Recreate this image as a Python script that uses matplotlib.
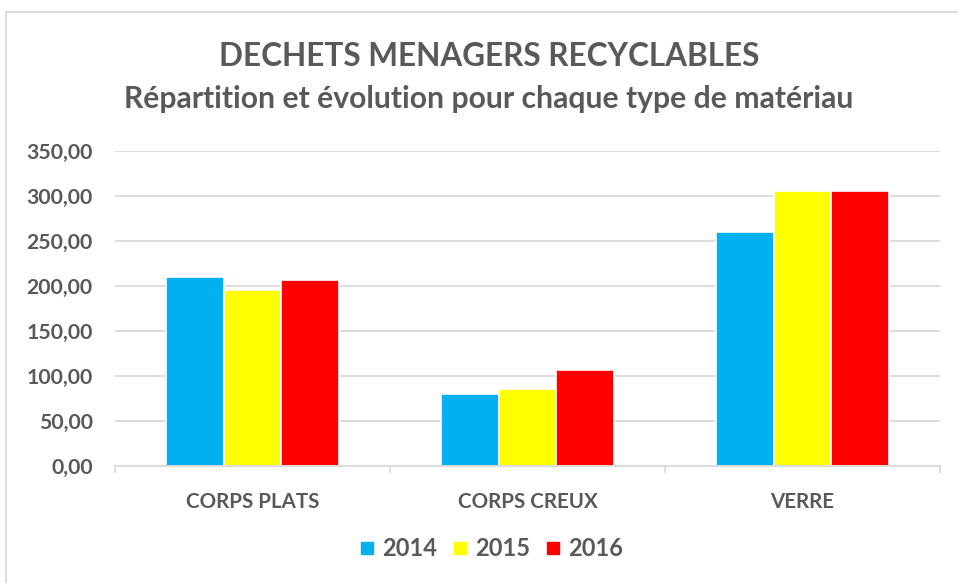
import numpy as np
import matplotlib.pyplot as plt
from matplotlib.lines import Line2D

categories = ['CORPS PLATS', 'CORPS CREUX', 'VERRE']
years = ['2014', '2015', '2016']
v2014 = [210, 80, 260]
v2015 = [196, 86, 305.5]
v2016 = [207, 107, 305.5]
colors = ['#00B0F0', '#FFFF00', '#FF0000']

plt.rcParams['font.family'] = ['Lato', 'DejaVu Sans']
txt = '#595959'

fig = plt.figure(figsize=(9.58, 5.83), dpi=100)
ax = fig.add_axes([115 / 958, 1 - 466 / 583, 825 / 958, 315 / 583])

x = np.arange(len(categories))
w = 0.21
for i, (vals, c, yr) in enumerate(zip([v2014, v2015, v2016], colors, years)):
    ax.bar(x + (i - 1) * w, vals, width=w, color=c, edgecolor='white',
           linewidth=1.2, label=yr, zorder=3)

ax.set_xlim(-0.5, 2.5)
ax.set_ylim(0, 350)
ax.set_yticks(np.arange(0, 351, 50))
ax.set_yticklabels([f'{v:.2f}'.replace('.', ',') for v in np.arange(0, 351, 50)])
ax.grid(axis='y', color='#d9d9d9', linewidth=1.3, zorder=0)
ax.set_xticks(x)
ax.set_xticklabels(categories)
ax.tick_params(axis='x', length=0, pad=19, labelsize=14.8, labelcolor=txt)
ax.tick_params(axis='y', length=0, pad=16, labelsize=15.3, labelcolor=txt)
for lab in ax.get_xticklabels() + ax.get_yticklabels():
    lab.set_fontweight('bold')
for s in ['top', 'right', 'left']:
    ax.spines[s].set_visible(False)
ax.spines['bottom'].set_color('#d9d9d9')
ax.spines['bottom'].set_linewidth(1.3)
ax.spines['bottom'].set_zorder(4)
# category separators
for b in [-0.5, 0.5, 1.5, 2.5]:
    ax.plot([b, b], [0, -7], color='#d9d9d9', lw=1.3, clip_on=False, zorder=4)

fig.text(489 / 958, 1 - 57 / 583, 'DECHETS MENAGERS RECYCLABLES', ha='center', va='center',
         fontsize=22.7, fontweight='bold', color=txt)
fig.text(489 / 958, 1 - 99 / 583, 'Répartition et évolution pour chaque type de matériau',
         ha='center', va='center', fontsize=21.7, fontweight='bold', color=txt)

handles = [Line2D([0], [0], marker='s', linestyle='', markersize=8,
                  markerfacecolor=c, markeredgecolor=c) for c in colors]
leg = fig.legend(handles, years, loc='center', bbox_to_anchor=(491 / 958, 1 - 549 / 583),
                 ncol=3, frameon=False, fontsize=17, handlelength=0.7,
                 handletextpad=0.3, columnspacing=0.6)
for t in leg.get_texts():
    t.set_color(txt)
    t.set_fontweight('bold')

# chart border (top and left visible)
fig.add_artist(Line2D([6 / 958, 1], [1 - 12 / 583, 1 - 12 / 583], color='#d9d9d9', lw=1.3))
fig.add_artist(Line2D([6 / 958, 6 / 958], [0, 1 - 12 / 583], color='#d9d9d9', lw=1.3))

fig.savefig('out.png', dpi=100, facecolor='white')
